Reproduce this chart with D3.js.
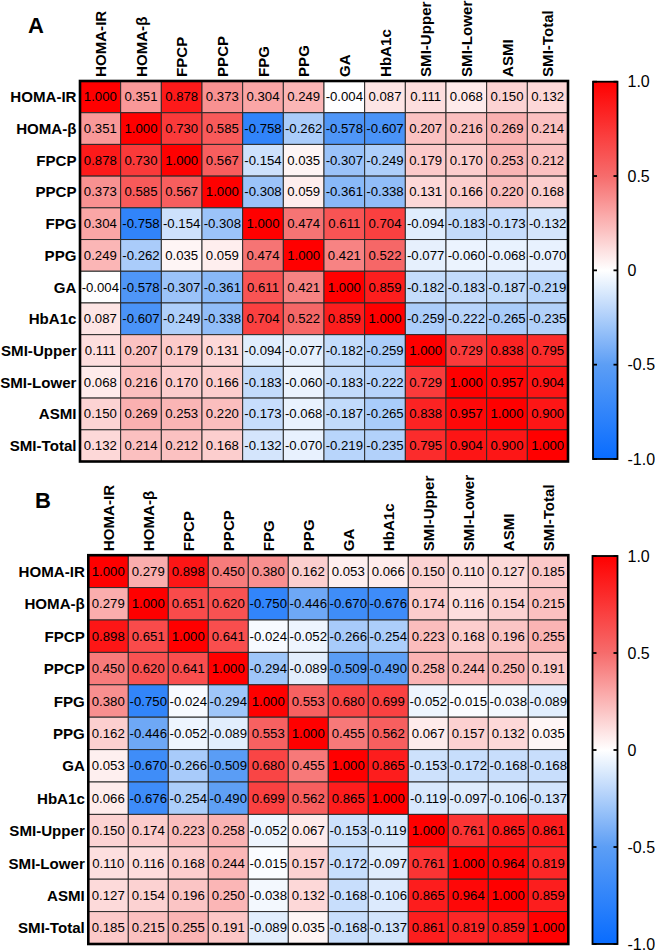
<!DOCTYPE html>
<html>
<head>
<meta charset="utf-8">
<script src="https://cdn.jsdelivr.net/npm/d3@7"></script>
<style>
  html, body { margin: 0; padding: 0; background: #fff; }
  svg { display: block; }
  text { font-family: "Liberation Sans", Arimo, Arial, sans-serif; }
</style>
</head>
<body>
<svg id="chart" width="655" height="950"></svg>
<script>
// ---------------- DATA ----------------
const variables = ["HOMA-IR","HOMA-β","FPCP","PPCP","FPG","PPG","GA","HbA1c","SMI-Upper","SMI-Lower","ASMI","SMI-Total"];

const panelLabels = ["A", "B"];

const matrixA = [
  [1.000, 0.351, 0.878, 0.373, 0.304, 0.249, -0.004, 0.087, 0.111, 0.068, 0.150, 0.132],
  [0.351, 1.000, 0.730, 0.585, -0.758, -0.262, -0.578, -0.607, 0.207, 0.216, 0.269, 0.214],
  [0.878, 0.730, 1.000, 0.567, -0.154, 0.035, -0.307, -0.249, 0.179, 0.170, 0.253, 0.212],
  [0.373, 0.585, 0.567, 1.000, -0.308, 0.059, -0.361, -0.338, 0.131, 0.166, 0.220, 0.168],
  [0.304, -0.758, -0.154, -0.308, 1.000, 0.474, 0.611, 0.704, -0.094, -0.183, -0.173, -0.132],
  [0.249, -0.262, 0.035, 0.059, 0.474, 1.000, 0.421, 0.522, -0.077, -0.060, -0.068, -0.070],
  [-0.004, -0.578, -0.307, -0.361, 0.611, 0.421, 1.000, 0.859, -0.182, -0.183, -0.187, -0.219],
  [0.087, -0.607, -0.249, -0.338, 0.704, 0.522, 0.859, 1.000, -0.259, -0.222, -0.265, -0.235],
  [0.111, 0.207, 0.179, 0.131, -0.094, -0.077, -0.182, -0.259, 1.000, 0.729, 0.838, 0.795],
  [0.068, 0.216, 0.170, 0.166, -0.183, -0.060, -0.183, -0.222, 0.729, 1.000, 0.957, 0.904],
  [0.150, 0.269, 0.253, 0.220, -0.173, -0.068, -0.187, -0.265, 0.838, 0.957, 1.000, 0.900],
  [0.132, 0.214, 0.212, 0.168, -0.132, -0.070, -0.219, -0.235, 0.795, 0.904, 0.900, 1.000]
];

const matrixB = [
  [1.000, 0.279, 0.898, 0.450, 0.380, 0.162, 0.053, 0.066, 0.150, 0.110, 0.127, 0.185],
  [0.279, 1.000, 0.651, 0.620, -0.750, -0.446, -0.670, -0.676, 0.174, 0.116, 0.154, 0.215],
  [0.898, 0.651, 1.000, 0.641, -0.024, -0.052, -0.266, -0.254, 0.223, 0.168, 0.196, 0.255],
  [0.450, 0.620, 0.641, 1.000, -0.294, -0.089, -0.509, -0.490, 0.258, 0.244, 0.250, 0.191],
  [0.380, -0.750, -0.024, -0.294, 1.000, 0.553, 0.680, 0.699, -0.052, -0.015, -0.038, -0.089],
  [0.162, -0.446, -0.052, -0.089, 0.553, 1.000, 0.455, 0.562, 0.067, 0.157, 0.132, 0.035],
  [0.053, -0.670, -0.266, -0.509, 0.680, 0.455, 1.000, 0.865, -0.153, -0.172, -0.168, -0.168],
  [0.066, -0.676, -0.254, -0.490, 0.699, 0.562, 0.865, 1.000, -0.119, -0.097, -0.106, -0.137],
  [0.150, 0.174, 0.223, 0.258, -0.052, 0.067, -0.153, -0.119, 1.000, 0.761, 0.865, 0.861],
  [0.110, 0.116, 0.168, 0.244, -0.015, 0.157, -0.172, -0.097, 0.761, 1.000, 0.964, 0.819],
  [0.127, 0.154, 0.196, 0.250, -0.038, 0.132, -0.168, -0.106, 0.865, 0.964, 1.000, 0.859],
  [0.185, 0.215, 0.255, 0.191, -0.089, 0.035, -0.168, -0.137, 0.861, 0.819, 0.859, 1.000]
];

const colorbarTicks = [1.0, 0.5, 0, -0.5, -1.0];
const colorbarTickLabels = ["1.0", "0.5", "0", "-0.5", "-1.0"];

// ---------------- COLOR ----------------
const color = d3.scaleLinear()
  .domain([-1, -0.5, 0, 0.5, 1])
  .range(["rgb(8,108,255)", "rgb(92,158,245)", "rgb(255,255,255)", "rgb(246,108,108)", "rgb(255,0,0)"])
  .interpolate(d3.interpolateRgb)
  .clamp(true);

// ---------------- LAYOUT ----------------
const svg = d3.select("#chart");
const defs = svg.append("defs");

const panels = [
  { data: matrixA, label: panelLabels[0], labelPos: [36, 25],
    grid: { x: 80, y: 81, w: 488, h: 380.5 },
    bar: { x: 593, y: 81.7, w: 24.5, h: 377.3 } },
  { data: matrixB, label: panelLabels[1], labelPos: [43, 500],
    grid: { x: 88.3, y: 555.2, w: 480, h: 388.8 },
    bar: { x: 592.5, y: 556, w: 25, h: 388 } }
];

panels.forEach((p, pi) => {
  const g = svg.append("g");

  const xs = d3.scaleBand().domain(variables).range([p.grid.x, p.grid.x + p.grid.w]);
  const ys = d3.scaleBand().domain(variables).range([p.grid.y, p.grid.y + p.grid.h]);

  g.append("text")
    .attr("x", p.labelPos[0]).attr("y", p.labelPos[1])
    .attr("text-anchor", "middle").attr("dominant-baseline", "central")
    .attr("font-size", 22).attr("font-weight", "bold")
    .text(p.label);

  const cells = [];
  p.data.forEach((row, i) => row.forEach((v, j) => cells.push({ r: variables[i], c: variables[j], v })));

  g.selectAll("rect.cell").data(cells).enter().append("rect")
    .attr("class", "cell")
    .attr("x", d => xs(d.c)).attr("y", d => ys(d.r))
    .attr("width", xs.bandwidth()).attr("height", ys.bandwidth())
    .attr("fill", d => color(d.v))
    .attr("stroke", "#2a2a2a").attr("stroke-width", 1);

  g.selectAll("text.val").data(cells).enter().append("text")
    .attr("class", "val")
    .attr("x", d => xs(d.c) + xs.bandwidth() / 2)
    .attr("y", d => ys(d.r) + ys.bandwidth() / 2)
    .attr("text-anchor", "middle").attr("dominant-baseline", "central")
    .attr("font-size", 13.2).attr("fill", "#000")
    .text(d => d.v.toFixed(3));

  g.append("rect")
    .attr("x", p.grid.x).attr("y", p.grid.y)
    .attr("width", p.grid.w).attr("height", p.grid.h)
    .attr("fill", "none").attr("stroke", "#000").attr("stroke-width", 2.6);

  g.selectAll("text.rowlab").data(variables).enter().append("text")
    .attr("class", "rowlab")
    .attr("x", p.grid.x - 3.5)
    .attr("y", d => ys(d) + ys.bandwidth() / 2)
    .attr("text-anchor", "end").attr("dominant-baseline", "central")
    .attr("font-size", 15.1).attr("font-weight", "bold")
    .text(d => d);

  g.selectAll("text.collab").data(variables).enter().append("text")
    .attr("class", "collab")
    .attr("transform", d => `translate(${xs(d) + xs.bandwidth() / 2},${p.grid.y - 4}) rotate(-90)`)
    .attr("text-anchor", "start").attr("dominant-baseline", "central")
    .attr("font-size", 15.1).attr("font-weight", "bold")
    .text(d => d);

  const gradId = "grad" + pi;
  const grad = defs.append("linearGradient").attr("id", gradId)
    .attr("x1", 0).attr("y1", 1).attr("x2", 0).attr("y2", 0);
  d3.range(0, 1.0001, 0.05).forEach(t => {
    grad.append("stop").attr("offset", t).attr("stop-color", color(-1 + 2 * t));
  });

  const cy = d3.scaleLinear().domain([-1, 1]).range([p.bar.y + p.bar.h, p.bar.y]);

  g.append("rect")
    .attr("x", p.bar.x).attr("y", p.bar.y)
    .attr("width", p.bar.w).attr("height", p.bar.h)
    .attr("fill", `url(#${gradId})`)
    .attr("stroke", "#000").attr("stroke-width", 1.8);

  colorbarTicks.forEach((t, k) => {
    const y = cy(t);
    g.append("line").attr("x1", p.bar.x).attr("x2", p.bar.x + 4).attr("y1", y).attr("y2", y)
      .attr("stroke", "#000").attr("stroke-width", 1.8);
    g.append("line").attr("x1", p.bar.x + p.bar.w - 4).attr("x2", p.bar.x + p.bar.w).attr("y1", y).attr("y2", y)
      .attr("stroke", "#000").attr("stroke-width", 1.8);
    g.append("text")
      .attr("x", p.bar.x + p.bar.w + 10).attr("y", y)
      .attr("dominant-baseline", "central")
      .attr("font-size", 16).attr("fill", "#000")
      .text(colorbarTickLabels[k]);
  });
});
</script>
</body>
</html>
